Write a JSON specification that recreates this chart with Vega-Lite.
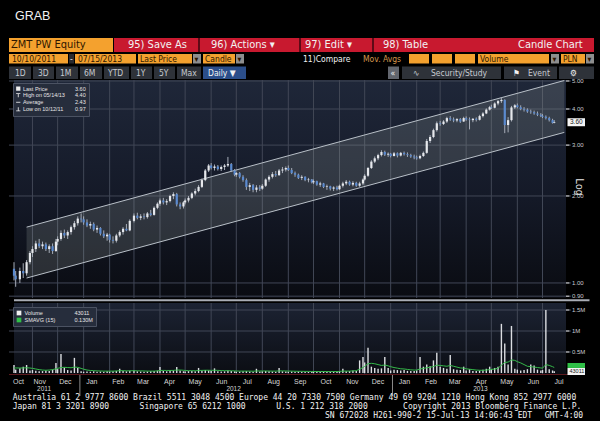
{
"$schema":"https://vega.github.io/schema/vega-lite/v6.json",
"background":"#000000",
"padding":{"left":8,"top":0,"right":0,"bottom":0},
"spacing":0,
"bounds":"flush",
"config":{"view":{"stroke":null},"font":"Liberation Sans"},
"resolve":{"scale":{"x":"independent","y":"independent","color":"independent","shape":"independent"},"legend":{"color":"independent","shape":"independent"}},
"datasets":{
"months":[{"d":"2011-11-01"},{"d":"2011-12-01"},{"d":"2012-01-01"},{"d":"2012-02-01"},{"d":"2012-03-01"},{"d":"2012-04-01"},{"d":"2012-05-01"},{"d":"2012-06-01"},{"d":"2012-07-01"},{"d":"2012-08-01"},{"d":"2012-09-01"},{"d":"2012-10-01"},{"d":"2012-11-01"},{"d":"2012-12-01"},{"d":"2013-01-01"},{"d":"2013-02-01"},{"d":"2013-03-01"},{"d":"2013-04-01"},{"d":"2013-05-01"},{"d":"2013-06-01"},{"d":"2013-07-01"}],
"pticks":[{"p":0.9,"t":"0.90"},{"p":1,"t":"1.00"},{"p":2,"t":"2.00"},{"p":3,"t":"3.00"},{"p":4,"t":"4.00"},{"p":5,"t":"5.00"}],
"vticks":[{"p":500,"t":"0.5M"},{"p":1000,"t":"1M"},{"p":1500,"t":"1.5M"}],
"ohlc":[
{"d":"2011-10-10","o":1.12,"h":1.18,"l":1.02,"c":1.06,"v":190,"s":120},
{"d":"2011-10-12","o":1.06,"h":1.10,"l":0.97,"c":1.03,"v":80,"s":120},
{"d":"2011-10-17","o":1.03,"h":1.13,"l":1.00,"c":1.10,"v":110,"s":118},
{"d":"2011-10-21","o":1.10,"h":1.17,"l":1.04,"c":1.08,"v":150,"s":120},
{"d":"2011-10-25","o":1.08,"h":1.20,"l":1.06,"c":1.18,"v":190,"s":125},
{"d":"2011-10-29","o":1.18,"h":1.29,"l":1.16,"c":1.27,"v":60,"s":118},
{"d":"2011-11-01","o":1.27,"h":1.34,"l":1.23,"c":1.31,"v":70,"s":110},
{"d":"2011-11-05","o":1.31,"h":1.40,"l":1.28,"c":1.37,"v":55,"s":95},
{"d":"2011-11-09","o":1.37,"h":1.42,"l":1.32,"c":1.34,"v":40,"s":80},
{"d":"2011-11-13","o":1.34,"h":1.39,"l":1.31,"c":1.36,"v":45,"s":70},
{"d":"2011-11-17","o":1.36,"h":1.38,"l":1.29,"c":1.31,"v":60,"s":65},
{"d":"2011-11-21","o":1.31,"h":1.36,"l":1.27,"c":1.34,"v":50,"s":70},
{"d":"2011-11-25","o":1.34,"h":1.37,"l":1.26,"c":1.29,"v":80,"s":80},
{"d":"2011-11-29","o":1.29,"h":1.42,"l":1.28,"c":1.39,"v":240,"s":100},
{"d":"2011-12-01","o":1.39,"h":1.45,"l":1.35,"c":1.42,"v":90,"s":110},
{"d":"2011-12-05","o":1.42,"h":1.52,"l":1.40,"c":1.49,"v":450,"s":130},
{"d":"2011-12-09","o":1.49,"h":1.53,"l":1.43,"c":1.46,"v":130,"s":135},
{"d":"2011-12-13","o":1.46,"h":1.52,"l":1.42,"c":1.50,"v":70,"s":130},
{"d":"2011-12-17","o":1.50,"h":1.58,"l":1.47,"c":1.56,"v":60,"s":125},
{"d":"2011-12-21","o":1.56,"h":1.64,"l":1.53,"c":1.61,"v":360,"s":140},
{"d":"2011-12-25","o":1.61,"h":1.70,"l":1.58,"c":1.67,"v":120,"s":135},
{"d":"2011-12-29","o":1.67,"h":1.74,"l":1.62,"c":1.66,"v":40,"s":110},
{"d":"2012-01-01","o":1.66,"h":1.70,"l":1.59,"c":1.62,"v":30,"s":90},
{"d":"2012-01-05","o":1.62,"h":1.66,"l":1.56,"c":1.58,"v":35,"s":70},
{"d":"2012-01-09","o":1.58,"h":1.63,"l":1.54,"c":1.60,"v":30,"s":60},
{"d":"2012-01-13","o":1.60,"h":1.62,"l":1.51,"c":1.53,"v":40,"s":55},
{"d":"2012-01-17","o":1.53,"h":1.58,"l":1.49,"c":1.55,"v":30,"s":50},
{"d":"2012-01-21","o":1.55,"h":1.56,"l":1.46,"c":1.48,"v":35,"s":48},
{"d":"2012-01-25","o":1.48,"h":1.52,"l":1.43,"c":1.45,"v":30,"s":45},
{"d":"2012-01-29","o":1.45,"h":1.49,"l":1.40,"c":1.47,"v":40,"s":45},
{"d":"2012-02-01","o":1.47,"h":1.48,"l":1.38,"c":1.41,"v":35,"s":45},
{"d":"2012-02-05","o":1.41,"h":1.45,"l":1.37,"c":1.40,"v":40,"s":45},
{"d":"2012-02-09","o":1.40,"h":1.48,"l":1.38,"c":1.46,"v":50,"s":48},
{"d":"2012-02-13","o":1.46,"h":1.52,"l":1.44,"c":1.50,"v":100,"s":55},
{"d":"2012-02-17","o":1.50,"h":1.56,"l":1.47,"c":1.54,"v":45,"s":55},
{"d":"2012-02-21","o":1.54,"h":1.60,"l":1.51,"c":1.52,"v":40,"s":52},
{"d":"2012-02-25","o":1.52,"h":1.66,"l":1.51,"c":1.64,"v":55,"s":52},
{"d":"2012-03-01","o":1.64,"h":1.74,"l":1.62,"c":1.71,"v":60,"s":55},
{"d":"2012-03-05","o":1.71,"h":1.75,"l":1.66,"c":1.68,"v":40,"s":52},
{"d":"2012-03-09","o":1.68,"h":1.73,"l":1.65,"c":1.70,"v":35,"s":50},
{"d":"2012-03-13","o":1.70,"h":1.74,"l":1.66,"c":1.69,"v":30,"s":48},
{"d":"2012-03-17","o":1.69,"h":1.76,"l":1.67,"c":1.74,"v":35,"s":45},
{"d":"2012-03-21","o":1.74,"h":1.79,"l":1.70,"c":1.72,"v":40,"s":45},
{"d":"2012-03-25","o":1.72,"h":1.84,"l":1.71,"c":1.82,"v":50,"s":45},
{"d":"2012-03-29","o":1.82,"h":1.90,"l":1.80,"c":1.88,"v":55,"s":50},
{"d":"2012-04-01","o":1.88,"h":1.96,"l":1.85,"c":1.93,"v":140,"s":60},
{"d":"2012-04-05","o":1.93,"h":1.97,"l":1.87,"c":1.90,"v":50,"s":62},
{"d":"2012-04-09","o":1.90,"h":1.95,"l":1.86,"c":1.92,"v":40,"s":60},
{"d":"2012-04-13","o":1.92,"h":2.02,"l":1.90,"c":2.00,"v":70,"s":60},
{"d":"2012-04-17","o":2.00,"h":2.06,"l":1.95,"c":2.03,"v":60,"s":62},
{"d":"2012-04-21","o":2.03,"h":2.05,"l":1.84,"c":1.87,"v":140,"s":70},
{"d":"2012-04-25","o":1.87,"h":1.90,"l":1.80,"c":1.84,"v":60,"s":70},
{"d":"2012-04-29","o":1.84,"h":1.92,"l":1.81,"c":1.90,"v":40,"s":65},
{"d":"2012-05-01","o":1.90,"h":1.96,"l":1.87,"c":1.93,"v":35,"s":60},
{"d":"2012-05-05","o":1.93,"h":2.00,"l":1.90,"c":1.97,"v":45,"s":55},
{"d":"2012-05-09","o":1.97,"h":2.06,"l":1.95,"c":2.04,"v":50,"s":55},
{"d":"2012-05-13","o":2.04,"h":2.12,"l":2.01,"c":2.08,"v":40,"s":52},
{"d":"2012-05-17","o":2.08,"h":2.18,"l":2.06,"c":2.15,"v":120,"s":60},
{"d":"2012-05-21","o":2.15,"h":2.30,"l":2.13,"c":2.27,"v":60,"s":62},
{"d":"2012-05-25","o":2.27,"h":2.48,"l":2.25,"c":2.45,"v":70,"s":65},
{"d":"2012-05-29","o":2.45,"h":2.58,"l":2.42,"c":2.55,"v":60,"s":65},
{"d":"2012-06-01","o":2.55,"h":2.60,"l":2.47,"c":2.50,"v":45,"s":62},
{"d":"2012-06-05","o":2.50,"h":2.57,"l":2.45,"c":2.53,"v":110,"s":65},
{"d":"2012-06-09","o":2.53,"h":2.56,"l":2.45,"c":2.48,"v":40,"s":62},
{"d":"2012-06-13","o":2.48,"h":2.55,"l":2.44,"c":2.52,"v":35,"s":58},
{"d":"2012-06-17","o":2.52,"h":2.58,"l":2.46,"c":2.55,"v":40,"s":55},
{"d":"2012-06-21","o":2.55,"h":2.73,"l":2.52,"c":2.58,"v":60,"s":55},
{"d":"2012-06-25","o":2.58,"h":2.60,"l":2.42,"c":2.45,"v":45,"s":52},
{"d":"2012-06-29","o":2.45,"h":2.48,"l":2.34,"c":2.37,"v":40,"s":50},
{"d":"2012-07-01","o":2.37,"h":2.42,"l":2.33,"c":2.40,"v":30,"s":48},
{"d":"2012-07-05","o":2.40,"h":2.42,"l":2.30,"c":2.33,"v":35,"s":45},
{"d":"2012-07-09","o":2.33,"h":2.36,"l":2.24,"c":2.27,"v":40,"s":45},
{"d":"2012-07-13","o":2.27,"h":2.30,"l":2.10,"c":2.15,"v":45,"s":45},
{"d":"2012-07-17","o":2.15,"h":2.22,"l":2.08,"c":2.18,"v":35,"s":45},
{"d":"2012-07-21","o":2.18,"h":2.20,"l":2.06,"c":2.10,"v":30,"s":42},
{"d":"2012-07-25","o":2.10,"h":2.18,"l":2.06,"c":2.14,"v":100,"s":48},
{"d":"2012-07-29","o":2.14,"h":2.18,"l":2.08,"c":2.12,"v":35,"s":48},
{"d":"2012-08-01","o":2.12,"h":2.20,"l":2.10,"c":2.17,"v":40,"s":48},
{"d":"2012-08-05","o":2.17,"h":2.30,"l":2.15,"c":2.28,"v":45,"s":48},
{"d":"2012-08-09","o":2.28,"h":2.36,"l":2.24,"c":2.33,"v":40,"s":46},
{"d":"2012-08-13","o":2.33,"h":2.42,"l":2.30,"c":2.38,"v":35,"s":45},
{"d":"2012-08-17","o":2.38,"h":2.44,"l":2.33,"c":2.36,"v":30,"s":44},
{"d":"2012-08-21","o":2.36,"h":2.48,"l":2.35,"c":2.45,"v":120,"s":50},
{"d":"2012-08-25","o":2.45,"h":2.52,"l":2.40,"c":2.47,"v":40,"s":50},
{"d":"2012-08-29","o":2.47,"h":2.53,"l":2.43,"c":2.50,"v":35,"s":48},
{"d":"2012-09-01","o":2.50,"h":2.55,"l":2.44,"c":2.46,"v":30,"s":46},
{"d":"2012-09-05","o":2.46,"h":2.50,"l":2.38,"c":2.40,"v":35,"s":44},
{"d":"2012-09-09","o":2.40,"h":2.43,"l":2.33,"c":2.37,"v":30,"s":42},
{"d":"2012-09-13","o":2.37,"h":2.39,"l":2.29,"c":2.31,"v":35,"s":40},
{"d":"2012-09-17","o":2.31,"h":2.36,"l":2.27,"c":2.33,"v":30,"s":40},
{"d":"2012-09-21","o":2.33,"h":2.34,"l":2.25,"c":2.27,"v":30,"s":38},
{"d":"2012-09-25","o":2.27,"h":2.31,"l":2.23,"c":2.28,"v":25,"s":38},
{"d":"2012-09-29","o":2.28,"h":2.29,"l":2.21,"c":2.23,"v":30,"s":36},
{"d":"2012-10-01","o":2.23,"h":2.28,"l":2.20,"c":2.25,"v":30,"s":36},
{"d":"2012-10-05","o":2.25,"h":2.26,"l":2.17,"c":2.19,"v":35,"s":36},
{"d":"2012-10-09","o":2.19,"h":2.24,"l":2.15,"c":2.21,"v":30,"s":35},
{"d":"2012-10-13","o":2.21,"h":2.22,"l":2.13,"c":2.15,"v":30,"s":35},
{"d":"2012-10-17","o":2.15,"h":2.19,"l":2.10,"c":2.16,"v":25,"s":34},
{"d":"2012-10-21","o":2.16,"h":2.17,"l":2.09,"c":2.12,"v":30,"s":34},
{"d":"2012-10-25","o":2.12,"h":2.16,"l":2.08,"c":2.14,"v":30,"s":34},
{"d":"2012-10-29","o":2.14,"h":2.17,"l":2.09,"c":2.11,"v":35,"s":35},
{"d":"2012-11-01","o":2.11,"h":2.19,"l":2.10,"c":2.17,"v":40,"s":38},
{"d":"2012-11-05","o":2.17,"h":2.24,"l":2.14,"c":2.21,"v":100,"s":45},
{"d":"2012-11-09","o":2.21,"h":2.27,"l":2.18,"c":2.24,"v":40,"s":45},
{"d":"2012-11-13","o":2.24,"h":2.26,"l":2.17,"c":2.19,"v":45,"s":45},
{"d":"2012-11-17","o":2.19,"h":2.25,"l":2.16,"c":2.22,"v":60,"s":50},
{"d":"2012-11-21","o":2.22,"h":2.24,"l":2.15,"c":2.17,"v":50,"s":55},
{"d":"2012-11-25","o":2.17,"h":2.24,"l":2.15,"c":2.21,"v":300,"s":90},
{"d":"2012-11-29","o":2.21,"h":2.30,"l":2.18,"c":2.28,"v":380,"s":130},
{"d":"2012-12-01","o":2.28,"h":2.38,"l":2.26,"c":2.35,"v":250,"s":160},
{"d":"2012-12-05","o":2.35,"h":2.52,"l":2.33,"c":2.50,"v":600,"s":220},
{"d":"2012-12-09","o":2.50,"h":2.66,"l":2.48,"c":2.63,"v":150,"s":230},
{"d":"2012-12-13","o":2.63,"h":2.74,"l":2.60,"c":2.70,"v":120,"s":220},
{"d":"2012-12-17","o":2.70,"h":2.80,"l":2.66,"c":2.77,"v":100,"s":200},
{"d":"2012-12-21","o":2.77,"h":2.88,"l":2.74,"c":2.84,"v":110,"s":180},
{"d":"2012-12-25","o":2.84,"h":2.87,"l":2.75,"c":2.78,"v":380,"s":190},
{"d":"2012-12-29","o":2.78,"h":2.83,"l":2.73,"c":2.80,"v":120,"s":170},
{"d":"2013-01-01","o":2.80,"h":2.82,"l":2.72,"c":2.75,"v":60,"s":150},
{"d":"2013-01-05","o":2.75,"h":2.84,"l":2.74,"c":2.81,"v":80,"s":130},
{"d":"2013-01-09","o":2.81,"h":2.83,"l":2.72,"c":2.76,"v":70,"s":115},
{"d":"2013-01-13","o":2.76,"h":2.84,"l":2.74,"c":2.82,"v":60,"s":100},
{"d":"2013-01-17","o":2.82,"h":2.85,"l":2.76,"c":2.79,"v":70,"s":95},
{"d":"2013-01-21","o":2.79,"h":2.83,"l":2.73,"c":2.77,"v":50,"s":85},
{"d":"2013-01-25","o":2.77,"h":2.80,"l":2.71,"c":2.74,"v":45,"s":75},
{"d":"2013-01-29","o":2.74,"h":2.78,"l":2.68,"c":2.72,"v":50,"s":70},
{"d":"2013-02-01","o":2.72,"h":2.76,"l":2.67,"c":2.70,"v":60,"s":70},
{"d":"2013-02-05","o":2.70,"h":2.78,"l":2.68,"c":2.75,"v":380,"s":95},
{"d":"2013-02-09","o":2.75,"h":2.85,"l":2.73,"c":2.82,"v":150,"s":110},
{"d":"2013-02-13","o":2.82,"h":3.15,"l":2.80,"c":3.10,"v":200,"s":125},
{"d":"2013-02-17","o":3.10,"h":3.25,"l":3.05,"c":3.20,"v":160,"s":135},
{"d":"2013-02-21","o":3.20,"h":3.42,"l":3.17,"c":3.38,"v":300,"s":155},
{"d":"2013-02-25","o":3.38,"h":3.62,"l":3.34,"c":3.57,"v":480,"s":185},
{"d":"2013-03-01","o":3.57,"h":3.64,"l":3.50,"c":3.55,"v":150,"s":180},
{"d":"2013-03-05","o":3.55,"h":3.66,"l":3.52,"c":3.62,"v":120,"s":170},
{"d":"2013-03-09","o":3.62,"h":3.76,"l":3.58,"c":3.72,"v":100,"s":160},
{"d":"2013-03-13","o":3.72,"h":3.78,"l":3.64,"c":3.68,"v":430,"s":180},
{"d":"2013-03-17","o":3.68,"h":3.74,"l":3.60,"c":3.65,"v":90,"s":160},
{"d":"2013-03-21","o":3.65,"h":3.72,"l":3.60,"c":3.69,"v":80,"s":140},
{"d":"2013-03-25","o":3.69,"h":3.72,"l":3.58,"c":3.62,"v":70,"s":120},
{"d":"2013-03-29","o":3.62,"h":3.76,"l":3.61,"c":3.72,"v":150,"s":115},
{"d":"2013-04-01","o":3.72,"h":3.77,"l":3.64,"c":3.68,"v":60,"s":100},
{"d":"2013-04-05","o":3.68,"h":3.74,"l":3.40,"c":3.66,"v":90,"s":90},
{"d":"2013-04-09","o":3.66,"h":3.72,"l":3.60,"c":3.70,"v":50,"s":80},
{"d":"2013-04-13","o":3.70,"h":3.74,"l":3.62,"c":3.67,"v":45,"s":70},
{"d":"2013-04-17","o":3.67,"h":3.82,"l":3.65,"c":3.78,"v":60,"s":65},
{"d":"2013-04-21","o":3.78,"h":3.90,"l":3.74,"c":3.86,"v":80,"s":65},
{"d":"2013-04-25","o":3.86,"h":4.02,"l":3.84,"c":3.98,"v":100,"s":70},
{"d":"2013-04-29","o":3.98,"h":4.10,"l":3.95,"c":4.06,"v":150,"s":80},
{"d":"2013-05-01","o":4.06,"h":4.14,"l":4.00,"c":4.04,"v":90,"s":85},
{"d":"2013-05-05","o":4.04,"h":4.22,"l":4.02,"c":4.18,"v":120,"s":95},
{"d":"2013-05-09","o":4.18,"h":4.30,"l":4.12,"c":4.26,"v":150,"s":110},
{"d":"2013-05-13","o":4.26,"h":4.40,"l":4.20,"c":4.30,"v":1170,"s":190},
{"d":"2013-05-17","o":4.30,"h":4.32,"l":3.30,"c":3.52,"v":700,"s":250},
{"d":"2013-05-21","o":3.52,"h":3.75,"l":3.32,"c":3.66,"v":200,"s":260},
{"d":"2013-05-25","o":3.66,"h":4.10,"l":3.62,"c":4.05,"v":1120,"s":310},
{"d":"2013-05-29","o":4.05,"h":4.16,"l":4.00,"c":4.12,"v":100,"s":300},
{"d":"2013-06-01","o":4.12,"h":4.18,"l":4.02,"c":4.06,"v":80,"s":270},
{"d":"2013-06-05","o":4.06,"h":4.12,"l":3.96,"c":4.00,"v":60,"s":240},
{"d":"2013-06-09","o":4.00,"h":4.06,"l":3.92,"c":3.98,"v":70,"s":200},
{"d":"2013-06-13","o":3.98,"h":4.02,"l":3.88,"c":3.92,"v":90,"s":160},
{"d":"2013-06-17","o":3.92,"h":3.98,"l":3.85,"c":3.90,"v":200,"s":150},
{"d":"2013-06-21","o":3.90,"h":3.95,"l":3.82,"c":3.86,"v":180,"s":140},
{"d":"2013-06-25","o":3.86,"h":3.92,"l":3.78,"c":3.82,"v":80,"s":130},
{"d":"2013-06-29","o":3.82,"h":3.87,"l":3.75,"c":3.79,"v":60,"s":120},
{"d":"2013-07-01","o":3.79,"h":3.84,"l":3.72,"c":3.76,"v":70,"s":115},
{"d":"2013-07-05","o":3.76,"h":3.80,"l":3.68,"c":3.72,"v":1500,"s":200},
{"d":"2013-07-09","o":3.72,"h":3.76,"l":3.62,"c":3.66,"v":90,"s":180},
{"d":"2013-07-13","o":3.66,"h":3.70,"l":3.56,"c":3.58,"v":60,"s":150},
{"d":"2013-07-15","o":3.58,"h":3.66,"l":3.57,"c":3.60,"v":43,"s":130}
]
},
"vconcat":[
{
"width":592,"height":80,
"layer":[
{"data":{"values":[
{"x1":8,"x2":112,"y1":38,"y2":52,"k":"or"},
{"x1":113,"x2":593,"y1":38,"y2":52,"k":"red"},
{"x1":197,"x2":199,"y1":38,"y2":52,"k":"sep"},
{"x1":298,"x2":300,"y1":38,"y2":52,"k":"sep"},
{"x1":371,"x2":373,"y1":38,"y2":52,"k":"sep"},
{"x1":8,"x2":67,"y1":54,"y2":63.5,"k":"or"},
{"x1":68,"x2":73,"y1":54,"y2":63.5,"k":"drk"},
{"x1":74,"x2":135,"y1":54,"y2":63.5,"k":"or"},
{"x1":137,"x2":191,"y1":54,"y2":63.5,"k":"or"},
{"x1":192,"x2":200,"y1":54,"y2":63.5,"k":"drop"},
{"x1":202,"x2":234,"y1":54,"y2":63.5,"k":"or"},
{"x1":235,"x2":243,"y1":54,"y2":63.5,"k":"drop"},
{"x1":408,"x2":428,"y1":54,"y2":63.5,"k":"or"},
{"x1":431,"x2":451,"y1":54,"y2":63.5,"k":"or"},
{"x1":454,"x2":474,"y1":54,"y2":63.5,"k":"or"},
{"x1":477,"x2":548,"y1":54,"y2":63.5,"k":"or"},
{"x1":550,"x2":558,"y1":54,"y2":63.5,"k":"drop"},
{"x1":560,"x2":584,"y1":54,"y2":63.5,"k":"or"},
{"x1":585,"x2":593,"y1":54,"y2":63.5,"k":"drop"},
{"x1":8,"x2":30,"y1":66.5,"y2":79,"k":"btn"},
{"x1":32,"x2":53,"y1":66.5,"y2":79,"k":"btn"},
{"x1":55,"x2":77,"y1":66.5,"y2":79,"k":"btn"},
{"x1":79,"x2":101,"y1":66.5,"y2":79,"k":"btn"},
{"x1":103,"x2":128,"y1":66.5,"y2":79,"k":"btn"},
{"x1":130,"x2":151,"y1":66.5,"y2":79,"k":"btn"},
{"x1":153,"x2":174,"y1":66.5,"y2":79,"k":"btn"},
{"x1":176,"x2":200,"y1":66.5,"y2":79,"k":"btn"},
{"x1":202,"x2":245,"y1":66.5,"y2":79,"k":"blue"},
{"x1":387,"x2":398,"y1":66.5,"y2":79,"k":"gray"},
{"x1":401,"x2":500,"y1":66.5,"y2":79,"k":"btn"},
{"x1":503,"x2":556,"y1":66.5,"y2":79,"k":"btn"},
{"x1":558,"x2":593,"y1":66.5,"y2":79,"k":"btn"}
]},
"mark":{"type":"rect"},
"encoding":{
"x":{"field":"x1","type":"quantitative","scale":{"domain":[8,600],"nice":false,"zero":false},"axis":null},
"x2":{"field":"x2"},
"y":{"field":"y1","type":"quantitative","scale":{"domain":[0,80],"nice":false,"zero":false,"reverse":true},"axis":null},
"y2":{"field":"y2"},
"color":{"field":"k","type":"nominal","scale":{"domain":["or","red","sep","drk","drop","btn","blue","gray","tdk","tw","tg","tor"],"range":["#f4a12e","#c8192f","#5e0a16","#2a2a2e","#8e8e8e","#2e3239","#2b4e8a","#62666e","#2e1700","#f2f2f2","#c6cad0","#d4964c"]},"legend":null}
}},
{"data":{"values":[{"x":14,"y":15.5,"t":"GRAB","k":"tw"}]},
"mark":{"type":"text","align":"left","fontSize":12.5,"font":"Liberation Sans"},
"encoding":{
"x":{"field":"x","type":"quantitative","scale":{"domain":[8,600],"nice":false,"zero":false},"axis":null},
"y":{"field":"y","type":"quantitative","scale":{"domain":[0,80],"nice":false,"zero":false,"reverse":true},"axis":null},
"text":{"field":"t"},
"color":{"field":"k","type":"nominal","scale":{"domain":["or","red","sep","drk","drop","btn","blue","gray","tdk","tw","tg","tor"],"range":["#f4a12e","#c8192f","#5e0a16","#2a2a2e","#8e8e8e","#2e3239","#2b4e8a","#62666e","#2e1700","#f2f2f2","#c6cad0","#d4964c"]},"legend":null}
}},
{"data":{"values":[
{"x":10,"y":45,"t":"ZMT PW Equity","k":"tdk"},
{"x":127,"y":45,"t":"95) Save As","k":"tw"},
{"x":210,"y":45,"t":"96) Actions ▾","k":"tw"},
{"x":304,"y":45,"t":"97) Edit ▾","k":"tw"},
{"x":382,"y":45,"t":"98) Table","k":"tw"},
{"x":517,"y":45,"t":"Candle Chart","k":"tw"}
]},
"mark":{"type":"text","align":"left","fontSize":11,"font":"Liberation Sans Narrow, DejaVu Sans Condensed, Liberation Sans"},
"encoding":{
"x":{"field":"x","type":"quantitative","scale":{"domain":[8,600],"nice":false,"zero":false},"axis":null},
"y":{"field":"y","type":"quantitative","scale":{"domain":[0,80],"nice":false,"zero":false,"reverse":true},"axis":null},
"text":{"field":"t"},
"color":{"field":"k","type":"nominal","scale":{"domain":["or","red","sep","drk","drop","btn","blue","gray","tdk","tw","tg","tor"],"range":["#f4a12e","#c8192f","#5e0a16","#2a2a2e","#8e8e8e","#2e3239","#2b4e8a","#62666e","#2e1700","#f2f2f2","#c6cad0","#d4964c"]},"legend":null}
}},
{"data":{"values":[
{"x":11,"y":58.8,"t":"10/10/2011","k":"tdk"},
{"x":69,"y":58.8,"t":"-","k":"tw"},
{"x":77,"y":58.8,"t":"07/15/2013","k":"tdk"},
{"x":139,"y":58.8,"t":"Last Price","k":"tdk"},
{"x":193.5,"y":58.8,"t":"▾","k":"tdk"},
{"x":204,"y":58.8,"t":"Candle","k":"tdk"},
{"x":236.5,"y":58.8,"t":"▾","k":"tdk"},
{"x":302,"y":58.8,"t":"11)Compare","k":"tw"},
{"x":362,"y":58.8,"t":"Mov. Avgs","k":"tor"},
{"x":479,"y":58.8,"t":"Volume","k":"tdk"},
{"x":551.5,"y":58.8,"t":"▾","k":"tdk"},
{"x":562,"y":58.8,"t":"PLN","k":"tdk"},
{"x":586.5,"y":58.8,"t":"▾","k":"tdk"}
]},
"mark":{"type":"text","align":"left","fontSize":8.5,"font":"Liberation Sans Narrow, DejaVu Sans Condensed, Liberation Sans"},
"encoding":{
"x":{"field":"x","type":"quantitative","scale":{"domain":[8,600],"nice":false,"zero":false},"axis":null},
"y":{"field":"y","type":"quantitative","scale":{"domain":[0,80],"nice":false,"zero":false,"reverse":true},"axis":null},
"text":{"field":"t"},
"color":{"field":"k","type":"nominal","scale":{"domain":["or","red","sep","drk","drop","btn","blue","gray","tdk","tw","tg","tor"],"range":["#f4a12e","#c8192f","#5e0a16","#2a2a2e","#8e8e8e","#2e3239","#2b4e8a","#62666e","#2e1700","#f2f2f2","#c6cad0","#d4964c"]},"legend":null}
}},
{"data":{"values":[
{"x":14,"y":72.8,"t":"1D","k":"tg"},
{"x":37,"y":72.8,"t":"3D","k":"tg"},
{"x":59,"y":72.8,"t":"1M","k":"tg"},
{"x":83,"y":72.8,"t":"6M","k":"tg"},
{"x":107,"y":72.8,"t":"YTD","k":"tg"},
{"x":135,"y":72.8,"t":"1Y","k":"tg"},
{"x":158,"y":72.8,"t":"5Y","k":"tg"},
{"x":180,"y":72.8,"t":"Max","k":"tg"},
{"x":207,"y":72.8,"t":"Daily ▼","k":"tw"},
{"x":389.5,"y":72.8,"t":"«","k":"tw"},
{"x":412,"y":72.8,"t":"∿","k":"tg"},
{"x":430,"y":72.8,"t":"Security/Study","k":"tg"},
{"x":512,"y":72.8,"t":"⚑","k":"tw"},
{"x":527,"y":72.8,"t":"Event","k":"tg"},
{"x":569,"y":72.8,"t":"⚙","k":"tw"}
]},
"mark":{"type":"text","align":"left","fontSize":8.5,"font":"Liberation Sans Narrow, DejaVu Sans Condensed, Liberation Sans"},
"encoding":{
"x":{"field":"x","type":"quantitative","scale":{"domain":[8,600],"nice":false,"zero":false},"axis":null},
"y":{"field":"y","type":"quantitative","scale":{"domain":[0,80],"nice":false,"zero":false,"reverse":true},"axis":null},
"text":{"field":"t"},
"color":{"field":"k","type":"nominal","scale":{"domain":["or","red","sep","drk","drop","btn","blue","gray","tdk","tw","tg","tor"],"range":["#f4a12e","#c8192f","#5e0a16","#2a2a2e","#8e8e8e","#2e3239","#2b4e8a","#62666e","#2e1700","#f2f2f2","#c6cad0","#d4964c"]},"legend":null}
}}
]
},
{
"width":562,"height":218,
"layer":[
{"data":{"values":[{}]},
"mark":{"type":"rect","color":{"gradient":"linear","x1":0,"y1":0,"x2":0,"y2":1,"stops":[{"offset":0,"color":"#1f2739"},{"offset":0.55,"color":"#141927"},{"offset":1,"color":"#0a0c12"}]}},
"encoding":{
"x":{"datum":{"year":2011,"month":"oct","date":10,"utc":true},"type":"temporal","scale":{"domain":[{"year":2011,"month":"oct","date":10,"utc":true},{"year":2013,"month":"jul","date":29,"utc":true}],"nice":false},"axis":null},
"x2":{"datum":{"year":2013,"month":"jul","date":29,"utc":true}},
"y":{"datum":5.04,"type":"quantitative","scale":{"type":"log","domain":[0.887,5.04],"nice":false},"axis":null},
"y2":{"datum":0.887}
}},
{"data":{"name":"months"},"mark":{"type":"rule","color":"#414756","strokeWidth":1},
"encoding":{"x":{"field":"d","type":"temporal","axis":null}}},
{"data":{"name":"pticks"},"mark":{"type":"rule","color":"#414756","strokeWidth":1},
"encoding":{"y":{"field":"p","type":"quantitative","axis":null}}},
{"data":{"name":"pticks"},"mark":{"type":"rule","color":"#e0e0e0","strokeWidth":1},
"encoding":{"x":{"datum":{"year":2013,"month":"jul","date":29,"utc":true},"type":"temporal","axis":null},"x2":{"datum":{"year":2013,"month":"aug","date":2,"utc":true}},"y":{"field":"p","type":"quantitative","axis":null}}},
{"data":{"name":"pticks"},"mark":{"type":"text","align":"left","dx":6,"fontSize":6,"color":"#c9cbd0"},
"encoding":{"x":{"datum":{"year":2013,"month":"jul","date":29,"utc":true},"type":"temporal","axis":null},"y":{"field":"p","type":"quantitative","axis":null},"text":{"field":"t"}}},
{"data":{"values":[{"d":"2011-10-25","u":1.56,"w":1.04},{"d":"2013-07-27","u":5.02,"w":3.32}]},
"mark":{"type":"area","color":"#a3b0ac","opacity":0.2},
"encoding":{"x":{"field":"d","type":"temporal","axis":null},"y":{"field":"u","type":"quantitative","axis":null},"y2":{"field":"w"}}},
{"data":{"values":[{"d":"2011-10-25","d2":"2013-07-27","a":1.56,"b":5.02},{"d":"2011-10-25","d2":"2013-07-27","a":1.04,"b":3.32}]},
"mark":{"type":"rule","color":"#b9c0c8","strokeWidth":1},
"encoding":{"x":{"field":"d","type":"temporal","axis":null},"x2":{"field":"d2"},"y":{"field":"a","type":"quantitative","axis":null},"y2":{"field":"b"}}},
{"data":{"name":"ohlc"},"mark":{"type":"rule","color":"#a7adb8","strokeWidth":1},
"encoding":{"x":{"field":"d","type":"temporal","axis":null},"y":{"field":"l","type":"quantitative","axis":null},"y2":{"field":"h"}}},
{"data":{"name":"ohlc"},"mark":{"type":"bar","size":2.2},
"encoding":{"x":{"field":"d","type":"temporal","axis":null},"y":{"field":"o","type":"quantitative","axis":null},"y2":{"field":"c"},
"color":{"condition":{"test":"datum.c >= datum.o","value":"#e6e8ec"},"value":"#5a8ad0"}}},
{"data":{"values":[{}]},
"mark":{"type":"point","shape":"M0.15,-0.4 L1.9,-0.4 L1.9,0.4 L0.15,0.4 Z","size":400,"filled":true,"color":"#f4f4f4","opacity":1},
"encoding":{"x":{"datum":{"year":2013,"month":"jul","date":29,"utc":true},"type":"temporal","axis":null},"y":{"datum":3.6,"type":"quantitative","axis":null}}},
{"data":{"values":[{}]},
"mark":{"type":"text","text":"3.60","align":"left","dx":4,"fontSize":6.5,"color":"#1a1a1a"},
"encoding":{"x":{"datum":{"year":2013,"month":"jul","date":29,"utc":true},"type":"temporal","axis":null},"y":{"datum":3.6,"type":"quantitative","axis":null}}},
{"data":{"values":[{}]},
"mark":{"type":"text","text":"Log","angle":90,"dy":-13,"align":"center","fontSize":10,"color":"#e6e6e6"},
"encoding":{"x":{"datum":{"year":2013,"month":"jul","date":29,"utc":true},"type":"temporal","axis":null},"y":{"datum":2.15,"type":"quantitative","axis":null}}},
{"data":{"values":[{"li":"Last Price"},{"li":"3.60"},{"li":"High on 05/14/13"},{"li":"4.40"},{"li":"Average"},{"li":"2.43"},{"li":"Low on 10/12/11"},{"li":"0.97"}]},
"mark":{"type":"point","filled":true,"opacity":0,"color":"#eeeeee"},
"encoding":{"shape":{"field":"li","type":"nominal",
"scale":{"domain":["Last Price","High on 05/14/13","Average","Low on 10/12/11","3.60","4.40","2.43","0.97"],
"range":["square","M-1,-1 L1,-1 L1,-0.6 L0.2,-0.6 L0.2,1 L-0.2,1 L-0.2,-0.6 L-1,-0.6 Z","M-1,-0.2 L1,-0.2 L1,0.2 L-1,0.2 Z","M-0.2,-1 L0.2,-1 L0.2,0.6 L1,0.6 L1,1 L-1,1 L-1,0.6 L-0.2,0.6 Z","M0,0","M0,0","M0,0","M0,0"]},
"legend":{"title":null,"orient":"none","legendX":4,"legendY":3,"columns":2,"gridAlign":"each","direction":"vertical","labelFontSize":5.5,"labelColor":"#e6e6e6","labelFont":"Liberation Sans","symbolSize":18,"symbolOpacity":1,"symbolFillColor":"#eeeeee","symbolStrokeColor":"#eeeeee","symbolStrokeWidth":0.3,"fillColor":"#262d3c","strokeColor":"#4b5262","padding":2.5,"rowPadding":0,"columnPadding":2,"labelOffset":2}}}}
]
},
{
"width":562,"height":77,
"layer":[
{"data":{"values":[{}]},
"mark":{"type":"rect","color":{"gradient":"linear","x1":0,"y1":0,"x2":0,"y2":1,"stops":[{"offset":0,"color":"#1c2333"},{"offset":1,"color":"#0b0d13"}]}},
"encoding":{
"x":{"datum":{"year":2011,"month":"oct","date":10,"utc":true},"type":"temporal","scale":{"domain":[{"year":2011,"month":"oct","date":10,"utc":true},{"year":2013,"month":"jul","date":29,"utc":true}],"nice":false},"axis":null},
"x2":{"datum":{"year":2013,"month":"jul","date":29,"utc":true}},
"y":{"datum":1667,"type":"quantitative","scale":{"domain":[-48,1786],"nice":false,"zero":false},"axis":null},
"y2":{"datum":-48}
}},
{"data":{"values":[{}]},"mark":{"type":"rule","color":"#a9adb5","strokeWidth":2},
"encoding":{"x":{"datum":{"year":2011,"month":"oct","date":10,"utc":true},"type":"temporal","axis":null},"x2":{"datum":{"year":2013,"month":"aug","date":26,"utc":true}},"y":{"datum":1735,"type":"quantitative","axis":null}}},
{"data":{"name":"vticks"},"mark":{"type":"rule","color":"#414756"},
"encoding":{"y":{"field":"p","type":"quantitative","axis":null}}},
{"data":{"name":"vticks"},"mark":{"type":"rule","color":"#e0e0e0","strokeWidth":1},
"encoding":{"x":{"datum":{"year":2013,"month":"jul","date":29,"utc":true},"type":"temporal","axis":null},"x2":{"datum":{"year":2013,"month":"aug","date":2,"utc":true}},"y":{"field":"p","type":"quantitative","axis":null}}},
{"data":{"name":"vticks"},"mark":{"type":"text","align":"left","dx":6,"fontSize":6,"color":"#c9cbd0"},
"encoding":{"x":{"datum":{"year":2013,"month":"jul","date":29,"utc":true},"type":"temporal","axis":null},"y":{"field":"p","type":"quantitative","axis":null},"text":{"field":"t"}}},
{"data":{"name":"months"},"mark":{"type":"rule","color":"#414756"},
"encoding":{"x":{"field":"d","type":"temporal","axis":null},"y":{"datum":1667,"type":"quantitative","axis":null},"y2":{"datum":-48}}},
{"data":{"values":[{}]},"mark":{"type":"rule","color":"#5e1a1e","strokeWidth":1},
"encoding":{"y":{"datum":-36,"type":"quantitative","axis":null}}},
{"data":{"name":"ohlc"},"mark":{"type":"bar","size":1.4,"color":"#dcdee2"},
"encoding":{"x":{"field":"d","type":"temporal","axis":null},"y":{"field":"v","type":"quantitative","axis":null}}},
{"data":{"name":"ohlc"},"mark":{"type":"line","color":"#35b94a","strokeWidth":1},
"encoding":{"x":{"field":"d","type":"temporal","axis":null},"y":{"field":"s","type":"quantitative","axis":null}}},
{"data":{"values":[{}]},
"mark":{"type":"point","shape":"M0.15,-0.25 L1.9,-0.25 L1.9,0.25 L0.15,0.25 Z","size":400,"filled":true,"color":"#2fbf47","opacity":1},
"encoding":{"x":{"datum":{"year":2013,"month":"jul","date":29,"utc":true},"type":"temporal","axis":null},"y":{"datum":179,"type":"quantitative","axis":null}}},
{"data":{"values":[{}]},
"mark":{"type":"point","shape":"M0.15,-0.35 L1.9,-0.35 L1.9,0.35 L0.15,0.35 Z","size":400,"filled":true,"color":"#f4f4f4","opacity":1},
"encoding":{"x":{"datum":{"year":2013,"month":"jul","date":29,"utc":true},"type":"temporal","axis":null},"y":{"datum":36,"type":"quantitative","axis":null}}},
{"data":{"values":[{}]},
"mark":{"type":"text","text":"43011","align":"left","dx":3.5,"fontSize":5.5,"color":"#1a1a1a"},
"encoding":{"x":{"datum":{"year":2013,"month":"jul","date":29,"utc":true},"type":"temporal","axis":null},"y":{"datum":36,"type":"quantitative","axis":null}}},
{"data":{"values":[{"vi":"Volume"},{"vi":"43011"},{"vi":"SMAVG (15)"},{"vi":"0.130M"}]},
"mark":{"type":"point","filled":true,"opacity":0,"shape":"square"},
"encoding":{"color":{"field":"vi","type":"nominal",
"scale":{"domain":["Volume","SMAVG (15)","43011","0.130M"],"range":["#f0f0f0","#2fbf47","transparent","transparent"]},
"legend":{"title":null,"orient":"none","legendX":4,"legendY":9,"columns":2,"gridAlign":"each","direction":"vertical","labelFontSize":5.5,"labelColor":"#e6e6e6","labelFont":"Liberation Sans","symbolSize":22,"symbolOpacity":1,"symbolType":"square","fillColor":"#262d3c","strokeColor":"#4b5262","padding":2.5,"rowPadding":0,"columnPadding":10,"labelOffset":2}}}}
]
},
{
"width":562,"height":21,
"layer":[
{"data":{"values":[
{"d":"2011-10-21","t":"Oct","r":"m"},{"d":"2011-11-15","t":"Nov","r":"m"},{"d":"2011-12-15","t":"Dec","r":"m"},
{"d":"2012-01-15","t":"Jan","r":"m"},{"d":"2012-02-15","t":"Feb","r":"m"},{"d":"2012-03-15","t":"Mar","r":"m"},
{"d":"2012-04-15","t":"Apr","r":"m"},{"d":"2012-05-15","t":"May","r":"m"},{"d":"2012-06-15","t":"Jun","r":"m"},
{"d":"2012-07-15","t":"Jul","r":"m"},{"d":"2012-08-15","t":"Aug","r":"m"},{"d":"2012-09-15","t":"Sep","r":"m"},
{"d":"2012-10-15","t":"Oct","r":"m"},{"d":"2012-11-15","t":"Nov","r":"m"},{"d":"2012-12-15","t":"Dec","r":"m"},
{"d":"2013-01-15","t":"Jan","r":"m"},{"d":"2013-02-15","t":"Feb","r":"m"},{"d":"2013-03-15","t":"Mar","r":"m"},
{"d":"2013-04-15","t":"Apr","r":"m"},{"d":"2013-05-15","t":"May","r":"m"},{"d":"2013-06-15","t":"Jun","r":"m"},
{"d":"2013-07-15","t":"Jul","r":"m"}
]},
"mark":{"type":"text","fontSize":7,"color":"#d6d6d6"},
"encoding":{
"x":{"field":"d","type":"temporal","scale":{"domain":[{"year":2011,"month":"oct","date":10,"utc":true},{"year":2013,"month":"jul","date":29,"utc":true}],"nice":false},"axis":null},
"y":{"field":"r","type":"nominal","scale":{"type":"point","domain":["m","y"],"padding":1},"axis":null},
"text":{"field":"t"}}},
{"data":{"values":[{"d":"2011-11-20","t":"2011","r":"y"},{"d":"2012-06-29","t":"2012","r":"y"},{"d":"2013-04-14","t":"2013","r":"y"}]},
"mark":{"type":"text","fontSize":6.5,"color":"#d6d6d6"},
"encoding":{
"x":{"field":"d","type":"temporal","axis":null},
"y":{"field":"r","type":"nominal","scale":{"type":"point","domain":["m","y"],"padding":1},"axis":null},
"text":{"field":"t"}}},
{"data":{"values":[{"d":"2012-01-01"},{"d":"2013-01-01"}]},
"mark":{"type":"rule","color":"#8a8a8a"},
"encoding":{"x":{"field":"d","type":"temporal","axis":null}}}
]
},
{
"width":592,"height":22,
"data":{"values":[
{"c":0,"ln":"a","t":"Australia 61 2 9777 8600 Brazil 5511 3048 4500 Europe 44 20 7330 7500 Germany 49 69 9204 1210 Hong Kong 852 2977 6000"},
{"c":0,"ln":"b","t":"Japan 81 3 3201 8900"},
{"c":26,"ln":"b","t":"Singapore 65 6212 1000"},
{"c":54,"ln":"b","t":"U.S. 1 212 318 2000"},
{"c":80,"ln":"b","t":"Copyright 2013 Bloomberg Finance L.P."},
{"c":64,"ln":"c","t":"SN 672028 H261-990-2 15-Jul-13 14:06:43 EDT"},
{"c":109,"ln":"c","t":"GMT-4:00"}
]},
"mark":{"type":"text","align":"left","font":"DejaVu Sans Mono","fontSize":8,"color":"#f2f2f2"},
"encoding":{
"x":{"field":"c","type":"quantitative","scale":{"domain":[-0.76,120.55],"nice":false,"zero":false},"axis":null},
"y":{"field":"ln","type":"nominal","scale":{"type":"point","domain":["a","b","c"],"padding":0.22},"axis":null},
"text":{"field":"t"}}
}
]
}
